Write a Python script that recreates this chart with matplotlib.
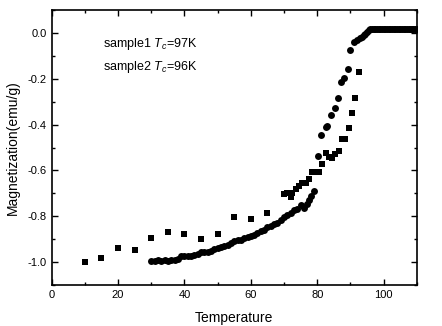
import matplotlib
matplotlib.use("Agg")
import matplotlib.pyplot as plt
from matplotlib.ticker import MultipleLocator

plt.rcParams['font.family'] = ['Liberation Sans', 'DejaVu Sans']
plt.rcParams['axes.unicode_minus'] = False
plt.rcParams['mathtext.fontset'] = 'custom'
plt.rcParams['mathtext.it'] = 'Liberation Sans:italic'
plt.rcParams['mathtext.rm'] = 'Liberation Sans'

# sample2 (squares)
sq_T = [10, 15, 20, 25, 30, 35, 40, 45, 50, 55, 60, 65,
        70, 71, 72, 72.5, 73.5, 74.5, 75.5, 76.5, 77.5, 78.5, 79.5, 80.5,
        81.5, 82.5, 83.5, 84.5, 85.5, 86.5, 87.5, 88.5, 89.5, 90.5, 91.3, 92.5]
sq_M = [-1.0, -0.983, -0.937, -0.947, -0.893, -0.867, -0.876, -0.898, -0.879, -0.803, -0.81, -0.785,
        -0.704, -0.70, -0.715, -0.70, -0.68, -0.667, -0.655, -0.653, -0.638, -0.609, -0.606, -0.606,
        -0.572, -0.526, -0.543, -0.546, -0.528, -0.514, -0.463, -0.463, -0.415, -0.349, -0.283, -0.17]

# sample1 (circles)
ci_T = [30, 31, 32, 33, 34, 35, 36, 37, 38, 39, 40, 41, 42, 43, 44, 45, 46, 47, 48, 49,
        50, 51, 52, 53, 54, 55, 56, 57, 58, 59, 60, 61, 62, 63, 64, 65, 66, 67, 68, 69,
        70, 71, 72, 73, 74, 75, 76, 77, 77.5, 78, 79, 80.2, 81.2, 82.5, 83, 84.2, 85.3,
        86.2, 87.3, 88, 89.2, 90, 91, 92, 93, 93.5, 94, 94.5, 95, 95.5,
        96, 96.5, 97, 97.5, 98, 98.5, 99, 99.5, 100, 100.5, 101, 101.5, 102, 102.5,
        103, 103.5, 104, 104.5, 105, 105.5, 106, 106.5, 107, 107.5, 108, 108.5, 109, 109.5, 110]
ci_M = [-0.995, -0.995, -0.993, -0.995, -0.992, -0.995, -0.99, -0.99, -0.985, -0.975,
        -0.975, -0.975, -0.972, -0.968, -0.965, -0.955, -0.958, -0.955, -0.95, -0.945,
        -0.94, -0.935, -0.93, -0.925, -0.918, -0.91, -0.905, -0.905, -0.895, -0.892,
        -0.885, -0.88, -0.872, -0.865, -0.86, -0.845, -0.842, -0.835, -0.828, -0.815,
        -0.805, -0.795, -0.785, -0.775, -0.77, -0.75, -0.765, -0.745, -0.73, -0.71, -0.69,
        -0.536, -0.444, -0.41, -0.405, -0.36, -0.328,
        -0.283, -0.212, -0.197, -0.156, -0.076, -0.04, -0.03, -0.022, -0.018, -0.01, -0.003, 0.004, 0.011,
        0.016, 0.017, 0.017, 0.017, 0.017, 0.017, 0.017, 0.017, 0.017, 0.017, 0.017, 0.017, 0.017, 0.017,
        0.017, 0.017, 0.017, 0.017, 0.017, 0.017, 0.017, 0.017, 0.017, 0.017, 0.017, 0.017, 0.017, 0.017, 0.017]

fig = plt.figure(figsize=(4.42, 3.26), dpi=100)
ax = fig.add_axes([0.117, 0.126, 0.826, 0.843])

ax.plot(sq_T, sq_M, 's', color='black', markersize=4.6, markeredgewidth=0)
ax.plot(ci_T, ci_M, 'o', color='black', markersize=5, markeredgewidth=0)

ax.set_xlim(0, 110)
ax.set_ylim(-1.1, 0.1)
ax.xaxis.set_major_locator(MultipleLocator(20))
ax.xaxis.set_minor_locator(MultipleLocator(10))
ax.yaxis.set_major_locator(MultipleLocator(0.2))
ax.yaxis.set_minor_locator(MultipleLocator(0.1))
ax.yaxis.set_major_formatter(matplotlib.ticker.FormatStrFormatter('%.1f'))
ax.tick_params(which='both', direction='in', top=True, right=True, labelsize=8, width=1)
ax.tick_params(which='major', length=4)
ax.tick_params(which='minor', length=2)
for s in ax.spines.values():
    s.set_linewidth(1.2)

ax.set_xlabel('Temperature', fontsize=10, labelpad=8)
ax.set_ylabel('Magnetization(emu/g)', fontsize=10, labelpad=6)

ax.text(15.4, -0.047, 'sample1 $T_c$=97K', fontsize=9, va='center', ha='left')
ax.text(15.4, -0.148, 'sample2 $T_c$=96K', fontsize=9, va='center', ha='left')

fig.savefig('out.png', dpi=100)
